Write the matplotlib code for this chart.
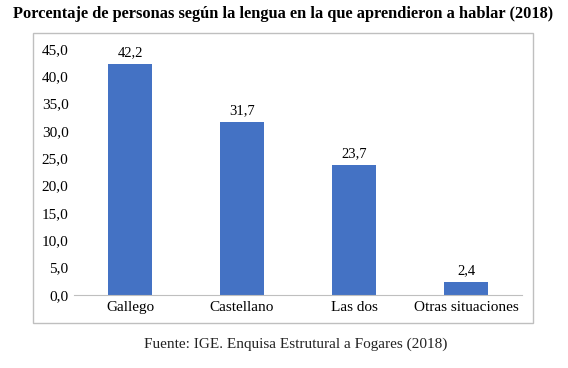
import matplotlib.pyplot as plt
from matplotlib.patches import Rectangle

categorias = ["Gallego", "Castellano", "Las dos", "Otras situaciones"]
valores = [42.2, 31.7, 23.7, 2.4]
yticks = [0, 5, 10, 15, 20, 25, 30, 35, 40, 45]

W, H = 568, 368
fig = plt.figure(figsize=(W / 100, H / 100), dpi=100)
plt.rcParams['font.family'] = ['Liberation Serif', 'DejaVu Serif']

# plot area in pixel coords
left, right, top, bottom = 74, 522, 49, 295
ax = fig.add_axes([left / W, 1 - bottom / H, (right - left) / W, (bottom - top) / H])

x = range(len(categorias))
ax.bar(x, valores, width=0.4, color="#4472C4")
for i, v in enumerate(valores):
    ax.text(i, v + 0.9, f"{v:.1f}".replace(".", ","), ha="center", va="bottom", fontsize=10.5)

ax.set_xlim(-0.5, len(categorias) - 0.5)
ax.set_ylim(0, 45)
ax.set_yticks(yticks)
ax.set_yticklabels([f"{t:.1f}".replace(".", ",") for t in yticks], fontsize=11)
ax.set_xticks(list(x))
ax.set_xticklabels(categorias, fontsize=11)
ax.tick_params(length=0, pad=4)
for s in ["top", "right", "left"]:
    ax.spines[s].set_visible(False)
ax.spines["bottom"].set_color("#BFBFBF")

# border around chart
fig.patches.append(Rectangle((33 / W, 1 - 323 / H), 500 / W, 290 / H, transform=fig.transFigure,
                             fill=False, edgecolor="#BFBFBF", linewidth=1))

fig.text(283 / W, 1 - 14 / H, "Porcentaje de personas según la lengua en la que aprendieron a hablar (2018)",
         ha="center", va="center", fontsize=11.8, fontweight="bold")
fig.text(296 / W, 1 - 344 / H, "Fuente: IGE. Enquisa Estrutural a Fogares (2018)",
         ha="center", va="center", fontsize=11, color="#222222")

fig.savefig("out.png", dpi=100)
